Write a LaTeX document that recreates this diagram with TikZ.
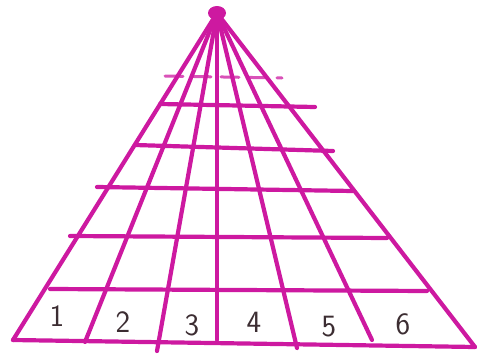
\documentclass[tikz,border=0pt]{standalone}
\usepackage{fontspec}
\setmainfont{DejaVu Sans}
\begin{document}
\begin{tikzpicture}[x=1pt,y=-1pt,
  ln/.style={draw=pk,line width=4.2pt,line cap=round},
  faint/.style={draw=pk!75,line width=3pt,line cap=round,dash pattern=on 18pt off 10pt},
  num/.style={text=numc,font=\fontsize{31}{32}\selectfont\sffamily}]
\definecolor{pk}{RGB}{205,25,160}
\definecolor{numc}{RGB}{60,45,50}
\useasboundingbox (0,0) rectangle (477,356);
% apex and base points
\coordinate (A) at (217,13);
\coordinate (b1) at (13,340);
\coordinate (b2) at (85,342);
\coordinate (b3) at (157,351);
\coordinate (b4) at (217,340);
\coordinate (b5) at (297,348);
\coordinate (b6) at (372,340);
\coordinate (b7) at (475,347);
% horizontal line ends
\coordinate (h0l) at (165,76); \coordinate (h0r) at (282,78);
\coordinate (h1l) at (160,104); \coordinate (h1r) at (315,107);
\coordinate (h2l) at (135,145); \coordinate (h2r) at (333,151);
\coordinate (h3l) at (97,187);  \coordinate (h3r) at (353,191);
\coordinate (h4l) at (70,236);  \coordinate (h4r) at (387,238);
\coordinate (h5l) at (50,289);  \coordinate (h5r) at (427,291);
% horizontals
\draw[faint] (h0l) -- (h0r);
\foreach \i in {1,...,5} \draw[ln] (h\i l) -- (h\i r);
\draw[ln] (b1) -- (b7);
% rays
\foreach \i in {1,...,7} \draw[ln] (A) -- (b\i);
\fill[pk] (A) ellipse (9pt and 7pt);
% numbers
\node[num] (n1) at (57,316) {1};
\node[num] (n2) at (123,322) {2};
\node[num] (n3) at (192,325) {3};
\node[num] (n4) at (254,322) {4};
\node[num] (n5) at (329,327) {5};
\node[num] (n6) at (403,324) {6};
\end{tikzpicture}
\end{document}
